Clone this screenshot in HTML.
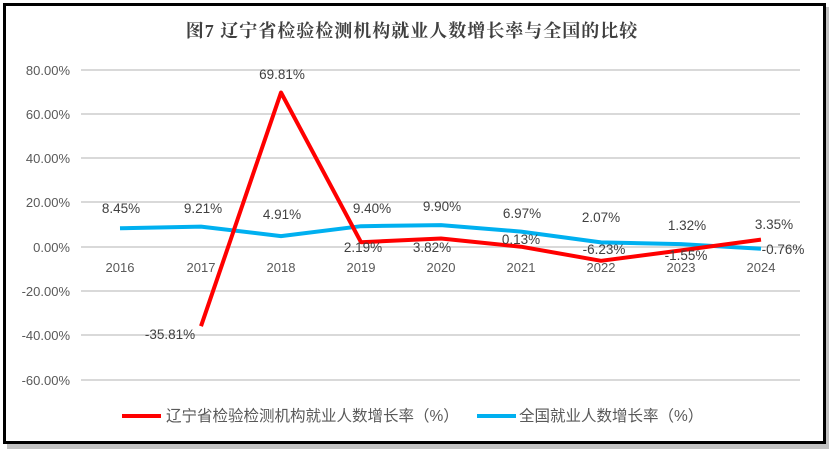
<!DOCTYPE html>
<html><head><meta charset="utf-8"><style>
body{margin:0;background:#fff;}
svg{display:block;}
</style></head><body>
<svg width="835" height="456" xmlns="http://www.w3.org/2000/svg" font-family="Liberation Sans, Noto Sans CJK SC, sans-serif">
<rect x="7" y="7" width="822" height="442" fill="#9a9a9a" opacity="0.6"/>
<rect x="4.5" y="4.5" width="820" height="438" fill="#fff" stroke="#000" stroke-width="3"/>
<text x="412" y="37" text-anchor="middle" font-size="18" font-weight="bold" fill="#404040" letter-spacing="1" font-family="Liberation Serif, Noto Serif CJK SC, serif">图7  辽宁省检验检测机构就业人数增长率与全国的比较</text>
<g stroke="#d9d9d9" stroke-width="2">
<line x1="81" x2="800" y1="70" y2="70"/><line x1="81" x2="800" y1="114" y2="114"/>
<line x1="81" x2="800" y1="158" y2="158"/><line x1="81" x2="800" y1="202" y2="202"/>
<line x1="81" x2="800" y1="247" y2="247"/><line x1="81" x2="800" y1="291" y2="291"/>
<line x1="81" x2="800" y1="335" y2="335"/><line x1="81" x2="800" y1="380" y2="380"/>
</g>
<g font-size="13" fill="#595959" text-anchor="end">
<text x="70" y="75">80.00%</text><text x="70" y="119">60.00%</text>
<text x="70" y="163">40.00%</text><text x="70" y="207">20.00%</text>
<text x="70" y="252">0.00%</text><text x="70" y="296">-20.00%</text>
<text x="70" y="340">-40.00%</text><text x="70" y="385">-60.00%</text>
</g>
<g font-size="13" fill="#595959" text-anchor="middle">
<text x="120" y="272">2016</text><text x="201" y="272">2017</text><text x="281" y="272">2018</text>
<text x="361" y="272">2019</text><text x="441" y="272">2020</text><text x="521" y="272">2021</text>
<text x="601" y="272">2022</text><text x="681" y="272">2023</text><text x="761" y="272">2024</text>
</g>
<polyline fill="none" stroke="#00b0f0" stroke-width="4" stroke-linejoin="round" points="120,228.3 201,226.6 281,236.1 361,226.2 441,225.1 521,231.6 601,242.4 681,244.1 761,248.7"/>
<polyline fill="none" stroke="#ff0000" stroke-width="4" stroke-linejoin="round" points="201,326.2 281,92.5 361,242.2 441,238.5 521,246.7 601,260.8 681,250.4 761,239.6"/>
<g font-size="13.5" fill="#404040" text-anchor="middle">
<text x="121" y="213">8.45%</text><text x="203" y="213">9.21%</text><text x="282" y="219">4.91%</text>
<text x="372" y="213">9.40%</text><text x="442" y="211">9.90%</text><text x="522" y="218">6.97%</text>
<text x="601" y="222">2.07%</text><text x="687" y="230">1.32%</text><text x="783" y="254">-0.76%</text>
<text x="170" y="339">-35.81%</text><text x="282" y="79">69.81%</text><text x="363" y="252">2.19%</text>
<text x="432" y="252">3.82%</text><text x="521" y="244">0.13%</text><text x="604" y="254">-6.23%</text>
<text x="686" y="260">-1.55%</text><text x="774" y="229">3.35%</text>
</g>
<line x1="122" x2="161" y1="416" y2="416" stroke="#ff0000" stroke-width="4"/>
<text x="166" y="421" font-size="15.5" fill="#595959">辽宁省检验检测机构就业人数增长率（%）</text>
<line x1="477" x2="516" y1="416" y2="416" stroke="#00b0f0" stroke-width="4"/>
<text x="519" y="421" font-size="15.5" fill="#595959">全国就业人数增长率（%）</text>
</svg>
</body></html>
